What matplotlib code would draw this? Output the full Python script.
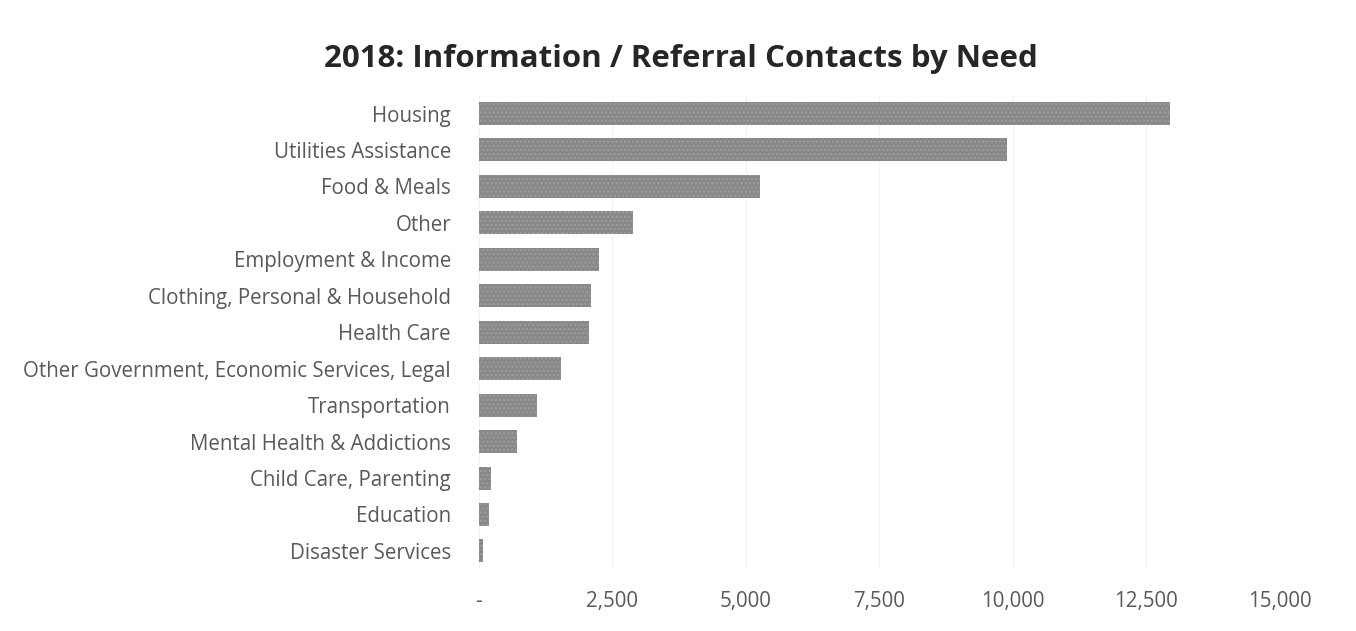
import matplotlib
matplotlib.use("Agg")
import matplotlib.pyplot as plt
from matplotlib.ticker import FixedLocator, FuncFormatter

categories = [
    "Housing",
    "Utilities Assistance",
    "Food & Meals",
    "Other",
    "Employment & Income",
    "Clothing, Personal & Household",
    "Health Care",
    "Other Government, Economic Services, Legal",
    "Transportation",
    "Mental Health & Addictions",
    "Child Care, Parenting",
    "Education",
    "Disaster Services",
]
contacts = [12940, 9890, 5260, 2880, 2250, 2100, 2060, 1550, 1100, 710, 240, 190, 90]
xticks = [0, 2500, 5000, 7500, 10000, 12500, 15000]

plt.rcParams["font.family"] = ["Open Sans", "DejaVu Sans"]
plt.rcParams["hatch.linewidth"] = 1.2

fig = plt.figure(figsize=(13.56, 6.31), dpi=100)
ax = fig.add_axes([0.353, 0.098, 0.591, 0.751])

ypos = list(range(len(categories)))
ax.barh(ypos, contacts, height=0.63, color="#888888", edgecolor="#9c9c9c",
        linewidth=0, hatch="....", zorder=3)
ax.set_ylim(len(categories) - 0.5, -0.5)
ax.set_xlim(0, 15000)

ax.set_yticks(ypos)
ax.set_yticklabels(categories)
ax.xaxis.set_major_locator(FixedLocator(xticks))
ax.xaxis.set_major_formatter(FuncFormatter(lambda v, p: "-" if v == 0 else f"{int(v):,}"))

ax.tick_params(axis="both", length=0, colors="#595959", labelsize=14.8)
ax.tick_params(axis="y", pad=20)
ax.tick_params(axis="x", pad=16)
ax.grid(axis="x", color="#f2f2f2", linewidth=0.8, zorder=0)
for s in ax.spines.values():
    s.set_visible(False)

fig.text(0.502, 0.907, "2018: Information / Referral Contacts by Need",
         ha="center", va="center", fontsize=22.5, fontweight="bold", color="#262626")

fig.savefig("out.png", dpi=100, facecolor="white")
